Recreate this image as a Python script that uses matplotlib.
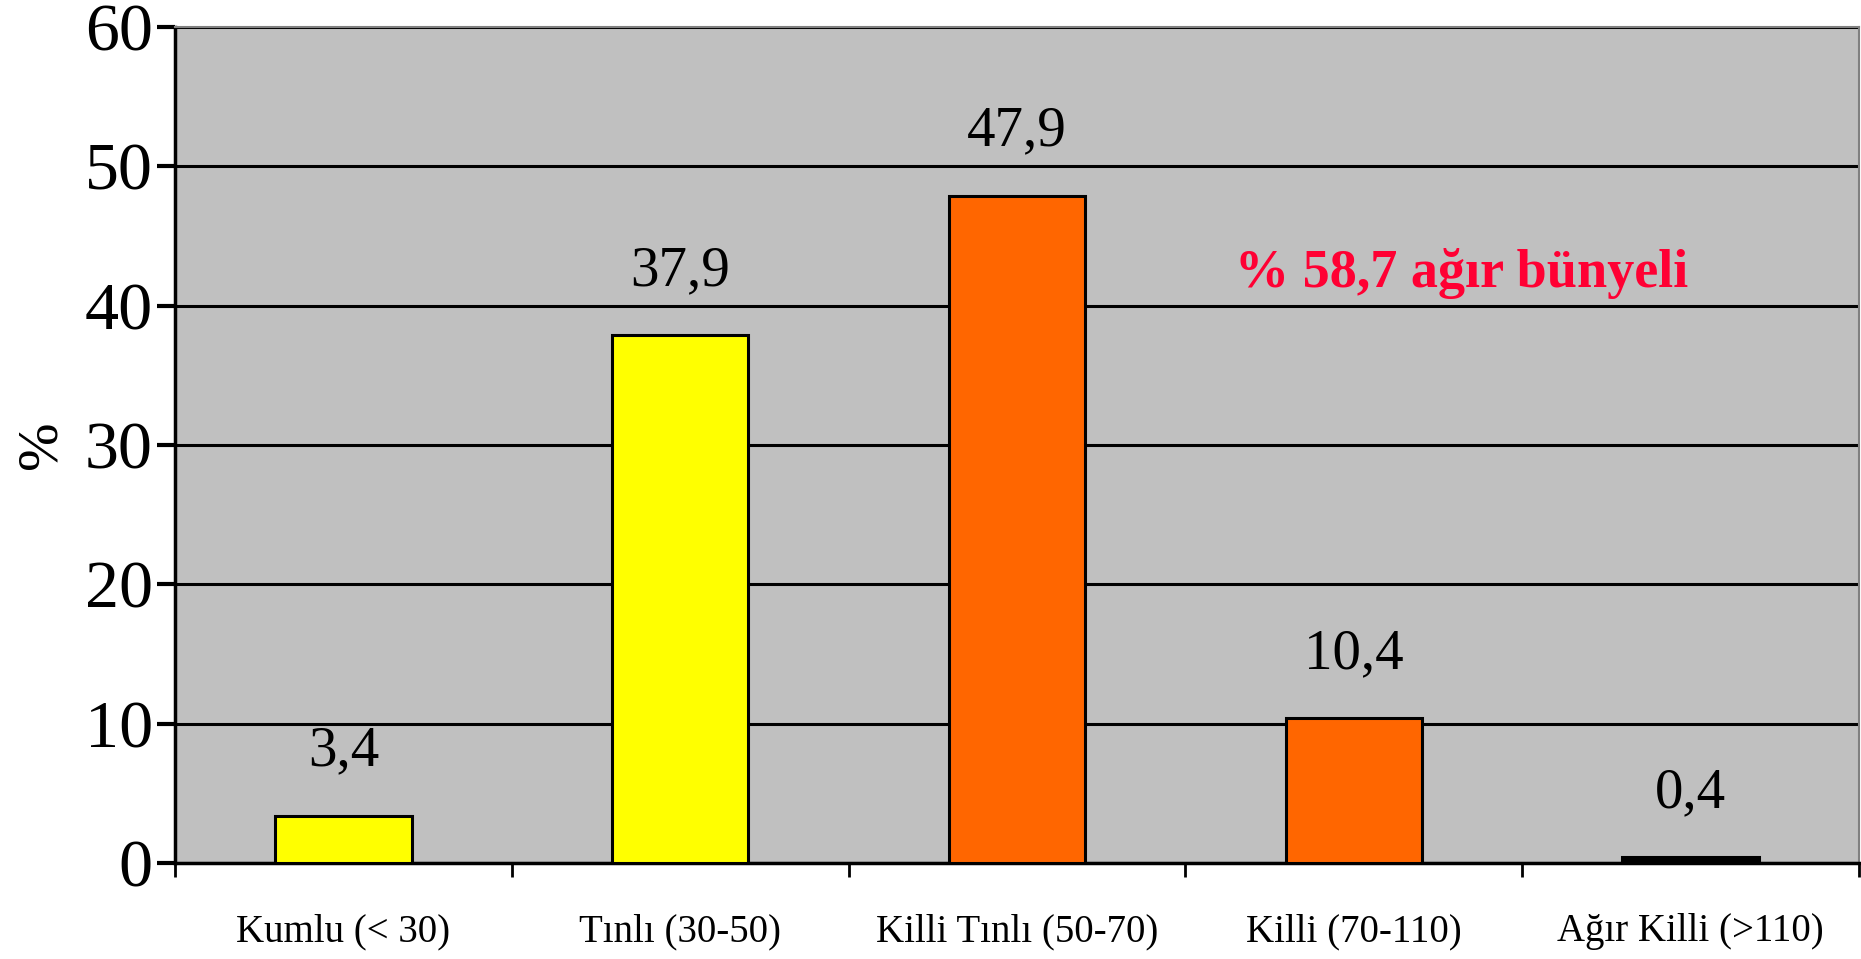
import matplotlib
matplotlib.use("Agg")
import matplotlib.pyplot as plt
import numpy as np

categories = ["Kumlu (< 30)", "Tınlı (30-50)", "Killi Tınlı (50-70)", "Killi (70-110)", "Ağır Killi (>110)"]
values = [3.4, 37.9, 47.9, 10.4, 0.4]
labels = ["3,4", "37,9", "47,9", "10,4", "0,4"]
colors = ["#FFFF00", "#FFFF00", "#FF6600", "#FF6600", "#000000"]
yticks = [0, 10, 20, 30, 40, 50, 60]
note = "% 58,7 ağır bünyeli"

plt.rcParams['font.family'] = ['Liberation Serif', 'DejaVu Serif']

fig = plt.figure(figsize=(18.61, 9.59), dpi=100)
ax = fig.add_axes([175/1861, 1-863/959, (1859-175)/1861, (863-27)/959])
ax.set_facecolor("#C0C0C0")

x = np.arange(len(categories))
ax.bar(x, values, width=0.405, color=colors, edgecolor="black", linewidth=2.2, zorder=3)

for xi, v, lab in zip(x, values, labels):
    ax.annotate(lab, (xi, v), xytext=(0, 36), textcoords="offset points",
                ha="center", va="baseline", fontsize=41, zorder=4)

ax.set_xlim(-0.5, len(categories) - 0.5)
ax.set_ylim(0, 60)
ax.set_yticks(yticks)
ax.set_yticklabels([str(t) for t in yticks], fontsize=49)
ax.yaxis.grid(True, color="black", linewidth=2.2, zorder=1)
ax.set_axisbelow(True)

ax.set_xticks(x)
ax.set_xticklabels(categories, fontsize=28)
ax.tick_params(axis='x', which='major', length=0, pad=36)
ax.set_xticks(np.arange(-0.5, len(categories)), minor=True)
ax.tick_params(axis='x', which='minor', length=10, width=2, direction='out')
ax.tick_params(axis='y', length=13, width=3, direction='out', pad=3)

for s in ["left", "bottom"]:
    ax.spines[s].set_color("black")
    ax.spines[s].set_linewidth(2.5)
for s in ["top", "right"]:
    ax.spines[s].set_color("#808080")
    ax.spines[s].set_linewidth(1.5)

ax.set_ylabel("%", fontsize=42, labelpad=12)

ax.text(3.32, 42.3, note, color="#FF0033", fontsize=39, fontweight="bold",
        ha="center", va="center", zorder=4)

fig.savefig("out.png", dpi=100)
